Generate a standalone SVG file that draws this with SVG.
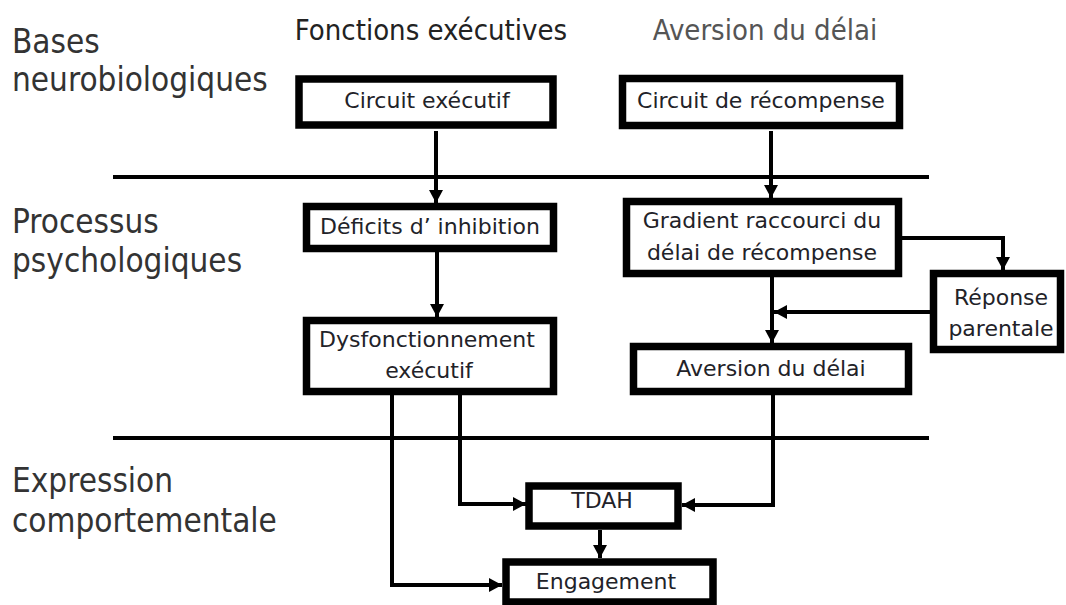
<svg xmlns="http://www.w3.org/2000/svg" width="1066" height="605" viewBox="0 0 1066 605">
  <style>
    .box { fill: #ffffff; stroke: #000000; stroke-width: 7.5; }
    .wire { fill: none; stroke: #000000; stroke-width: 4; }
    .sep { stroke: #000000; stroke-width: 4; }
    .cond { font-family: "DejaVu Sans Condensed", "DejaVu Sans", "Liberation Sans", sans-serif; font-stretch: condensed; }
    .lbl { font-family: "DejaVu Sans", "Liberation Sans", sans-serif; font-size: 22px; fill: #222228; text-anchor: middle; }
    .row { font-size: 33px; fill: #333333; }
    .head { font-size: 29px; text-anchor: middle; }
  </style>
  <defs>
    <marker id="arrow" markerUnits="userSpaceOnUse" markerWidth="14" markerHeight="14" refX="13" refY="7" orient="auto">
      <path d="M0,0 L13,7 L0,14 z" fill="#000000"/>
    </marker>
  </defs>
  <rect width="1066" height="605" fill="#ffffff"/>

  <!-- row titles -->
  <g id="row-titles" class="cond">
    <text class="row" x="12" y="53">Bases</text>
    <text class="row" x="12" y="91">neurobiologiques</text>
    <text class="row" x="12" y="233">Processus</text>
    <text class="row" x="12" y="272">psychologiques</text>
    <text class="row" x="12" y="492">Expression</text>
    <text class="row" x="12" y="532">comportementale</text>
  </g>

  <!-- column titles -->
  <g id="column-titles" class="cond">
    <text class="head" x="431" y="40" fill="#222222">Fonctions exécutives</text>
    <text class="head" x="765" y="40" fill="#555555" font-size="28">Aversion du délai</text>
  </g>

  <!-- layer separators -->
  <g id="separators">
    <line class="sep" x1="113" y1="177" x2="929" y2="177"/>
    <line class="sep" x1="113" y1="438" x2="929" y2="438"/>
  </g>

  <!-- connectors -->
  <g id="connectors">
    <path class="wire" d="M436,131 V203" marker-end="url(#arrow)"/>
    <path class="wire" d="M771,131 V198" marker-end="url(#arrow)"/>
    <path class="wire" d="M437,252 V317" marker-end="url(#arrow)"/>
    <path class="wire" d="M772,277 V343" marker-end="url(#arrow)"/>
    <path class="wire" d="M902,238 H1003 V270" marker-end="url(#arrow)"/>
    <path class="wire" d="M930,312 H774" marker-end="url(#arrow)"/>
    <path class="wire" d="M460,395 V504 H526" marker-end="url(#arrow)"/>
    <path class="wire" d="M773,395 V505 H682" marker-end="url(#arrow)"/>
    <path class="wire" d="M600,530 V558" marker-end="url(#arrow)"/>
    <path class="wire" d="M392,395 V585 H502" marker-end="url(#arrow)"/>
  </g>

  <g id="circuit-executif">
    <rect class="box" x="299" y="79" width="254" height="46"/>
    <text class="lbl" x="427" y="108">Circuit exécutif</text>
  </g>

  <g id="circuit-recompense">
    <rect class="box" x="622.5" y="78.5" width="277" height="47"/>
    <text class="lbl" x="761" y="108">Circuit de récompense</text>
  </g>

  <g id="deficits-inhibition">
    <rect class="box" x="306.5" y="206.5" width="247" height="42"/>
    <text class="lbl" x="430" y="234">Déficits d’ inhibition</text>
  </g>

  <g id="gradient">
    <rect class="box" x="626.5" y="201.5" width="272" height="72"/>
    <text class="lbl" x="762" y="228">Gradient raccourci du</text>
    <text class="lbl" x="762" y="260">délai de récompense</text>
  </g>

  <g id="reponse-parentale">
    <rect class="box" x="933.5" y="273.5" width="127" height="76"/>
    <text class="lbl" x="1001" y="305">Réponse</text>
    <text class="lbl" x="1001" y="336">parentale</text>
  </g>

  <g id="dysfonctionnement">
    <rect class="box" x="306.5" y="320.5" width="247" height="71"/>
    <text class="lbl" x="427" y="347">Dysfonctionnement</text>
    <text class="lbl" x="429" y="378">exécutif</text>
  </g>

  <g id="aversion-delai">
    <rect class="box" x="633.5" y="346.5" width="275" height="45"/>
    <text class="lbl" x="771" y="376">Aversion du délai</text>
  </g>

  <g id="tdah">
    <rect class="box" x="529" y="486" width="149" height="40"/>
    <text class="lbl" x="602" y="508">TDAH</text>
  </g>

  <g id="engagement">
    <rect class="box" x="506" y="562" width="207" height="40"/>
    <text class="lbl" x="606" y="589">Engagement</text>
  </g>
</svg>
